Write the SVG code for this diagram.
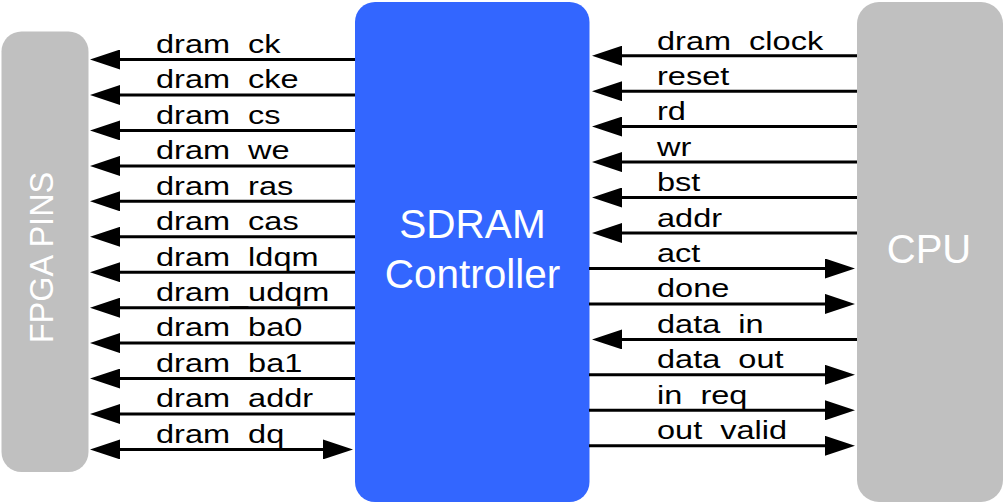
<svg xmlns="http://www.w3.org/2000/svg" width="1004" height="504" viewBox="0 0 1004 504">
<defs>
<style>
.box{fill:#c0c0c0}
.ctl{fill:#3366ff}
.title{font-family:"Liberation Sans",Arial,sans-serif;fill:#ffffff}
.wire{stroke:#000;stroke-width:3;fill:none}
.lbl{font-family:"Liberation Sans",Arial,sans-serif;font-size:26px;fill:#000}
</style>
<marker id="ah" markerWidth="30" markerHeight="20" refX="5" refY="10" orient="auto-start-reverse" markerUnits="userSpaceOnUse">
<path d="M0,0 L30,10 L0,20 Z" fill="#000"/>
</marker>
</defs>
<rect width="1004" height="504" fill="#fff"/>
<g id="fpga">
<rect class="box" x="1.5" y="31.5" width="87" height="440.5" rx="20" ry="20"/>
<text class="title" font-size="32.5" text-anchor="middle" transform="translate(53.3,257.5) rotate(-90)">FPGA PINS</text>
</g>
<g id="controller">
<rect class="ctl" x="355" y="2" width="234.5" height="500" rx="20" ry="20"/>
<text class="title" font-size="40.5" text-anchor="middle" x="472.5" y="237.7">SDRAM</text>
<text class="title" font-size="40.5" text-anchor="middle" x="472.5" y="288.3">Controller</text>
</g>
<g id="cpu">
<rect class="box" x="857" y="2" width="146" height="500" rx="22" ry="22"/>
<text class="title" font-size="40" text-anchor="middle" x="929" y="263.3">CPU</text>
</g>
<g id="connectors">
<line class="wire" x1="355" y1="59.5" x2="115" y2="59.5" marker-end="url(#ah)"/>
<line class="wire" x1="355" y1="95" x2="115" y2="95" marker-end="url(#ah)"/>
<line class="wire" x1="355" y1="130.4" x2="115" y2="130.4" marker-end="url(#ah)"/>
<line class="wire" x1="355" y1="165.9" x2="115" y2="165.9" marker-end="url(#ah)"/>
<line class="wire" x1="355" y1="201.3" x2="115" y2="201.3" marker-end="url(#ah)"/>
<line class="wire" x1="355" y1="236.8" x2="115" y2="236.8" marker-end="url(#ah)"/>
<line class="wire" x1="355" y1="272.2" x2="115" y2="272.2" marker-end="url(#ah)"/>
<line class="wire" x1="355" y1="307.7" x2="115" y2="307.7" marker-end="url(#ah)"/>
<line class="wire" x1="355" y1="343.1" x2="115" y2="343.1" marker-end="url(#ah)"/>
<line class="wire" x1="355" y1="378.6" x2="115" y2="378.6" marker-end="url(#ah)"/>
<line class="wire" x1="355" y1="414" x2="115" y2="414" marker-end="url(#ah)"/>
<line class="wire" x1="115" y1="449.4" x2="328" y2="449.4" marker-start="url(#ah)" marker-end="url(#ah)"/>
<line class="wire" x1="857" y1="55.7" x2="617" y2="55.7" marker-end="url(#ah)"/>
<line class="wire" x1="857" y1="91.2" x2="617" y2="91.2" marker-end="url(#ah)"/>
<line class="wire" x1="857" y1="126.6" x2="617" y2="126.6" marker-end="url(#ah)"/>
<line class="wire" x1="857" y1="162.1" x2="617" y2="162.1" marker-end="url(#ah)"/>
<line class="wire" x1="857" y1="197.5" x2="617" y2="197.5" marker-end="url(#ah)"/>
<line class="wire" x1="857" y1="233" x2="617" y2="233" marker-end="url(#ah)"/>
<line class="wire" x1="589" y1="268.5" x2="830" y2="268.5" marker-end="url(#ah)"/>
<line class="wire" x1="589" y1="303.9" x2="830" y2="303.9" marker-end="url(#ah)"/>
<line class="wire" x1="857" y1="339.4" x2="617" y2="339.4" marker-end="url(#ah)"/>
<line class="wire" x1="589" y1="374.8" x2="830" y2="374.8" marker-end="url(#ah)"/>
<line class="wire" x1="589" y1="410.3" x2="830" y2="410.3" marker-end="url(#ah)"/>
<line class="wire" x1="589" y1="445.8" x2="830" y2="445.8" marker-end="url(#ah)"/>
</g>
<g id="labels">
<text class="lbl" transform="translate(156,52.8) scale(1.25,1)">dram<tspan dy="2.4">_</tspan><tspan dy="-2.4">ck</tspan></text>
<text class="lbl" transform="translate(156,88.3) scale(1.25,1)">dram<tspan dy="2.4">_</tspan><tspan dy="-2.4">cke</tspan></text>
<text class="lbl" transform="translate(156,123.7) scale(1.25,1)">dram<tspan dy="2.4">_</tspan><tspan dy="-2.4">cs</tspan></text>
<text class="lbl" transform="translate(156,159.2) scale(1.25,1)">dram<tspan dy="2.4">_</tspan><tspan dy="-2.4">we</tspan></text>
<text class="lbl" transform="translate(156,194.6) scale(1.25,1)">dram<tspan dy="2.4">_</tspan><tspan dy="-2.4">ras</tspan></text>
<text class="lbl" transform="translate(156,230.1) scale(1.25,1)">dram<tspan dy="2.4">_</tspan><tspan dy="-2.4">cas</tspan></text>
<text class="lbl" transform="translate(156,265.5) scale(1.25,1)">dram<tspan dy="2.4">_</tspan><tspan dy="-2.4">ldqm</tspan></text>
<text class="lbl" transform="translate(156,301) scale(1.25,1)">dram<tspan dy="2.4">_</tspan><tspan dy="-2.4">udqm</tspan></text>
<text class="lbl" transform="translate(156,336.4) scale(1.25,1)">dram<tspan dy="2.4">_</tspan><tspan dy="-2.4">ba0</tspan></text>
<text class="lbl" transform="translate(156,371.9) scale(1.25,1)">dram<tspan dy="2.4">_</tspan><tspan dy="-2.4">ba1</tspan></text>
<text class="lbl" transform="translate(156,407.3) scale(1.25,1)">dram<tspan dy="2.4">_</tspan><tspan dy="-2.4">addr</tspan></text>
<text class="lbl" transform="translate(156,442.7) scale(1.25,1)">dram<tspan dy="2.4">_</tspan><tspan dy="-2.4">dq</tspan></text>
<text class="lbl" transform="translate(657,49.5) scale(1.25,1)">dram<tspan dy="2.4">_</tspan><tspan dy="-2.4">clock</tspan></text>
<text class="lbl" transform="translate(657,84.7) scale(1.25,1)">reset</text>
<text class="lbl" transform="translate(657,120.1) scale(1.25,1)">rd</text>
<text class="lbl" transform="translate(657,155.6) scale(1.25,1)">wr</text>
<text class="lbl" transform="translate(657,191) scale(1.25,1)">bst</text>
<text class="lbl" transform="translate(657,226.5) scale(1.25,1)">addr</text>
<text class="lbl" transform="translate(657,262) scale(1.25,1)">act</text>
<text class="lbl" transform="translate(657,297.4) scale(1.25,1)">done</text>
<text class="lbl" transform="translate(657,332.9) scale(1.25,1)">data<tspan dy="2.4">_</tspan><tspan dy="-2.4">in</tspan></text>
<text class="lbl" transform="translate(657,368.3) scale(1.25,1)">data<tspan dy="2.4">_</tspan><tspan dy="-2.4">out</tspan></text>
<text class="lbl" transform="translate(657,403.8) scale(1.25,1)">in<tspan dy="2.4">_</tspan><tspan dy="-2.4">req</tspan></text>
<text class="lbl" transform="translate(657,439.3) scale(1.25,1)">out<tspan dy="2.4">_</tspan><tspan dy="-2.4">valid</tspan></text>
</g>
</svg>
